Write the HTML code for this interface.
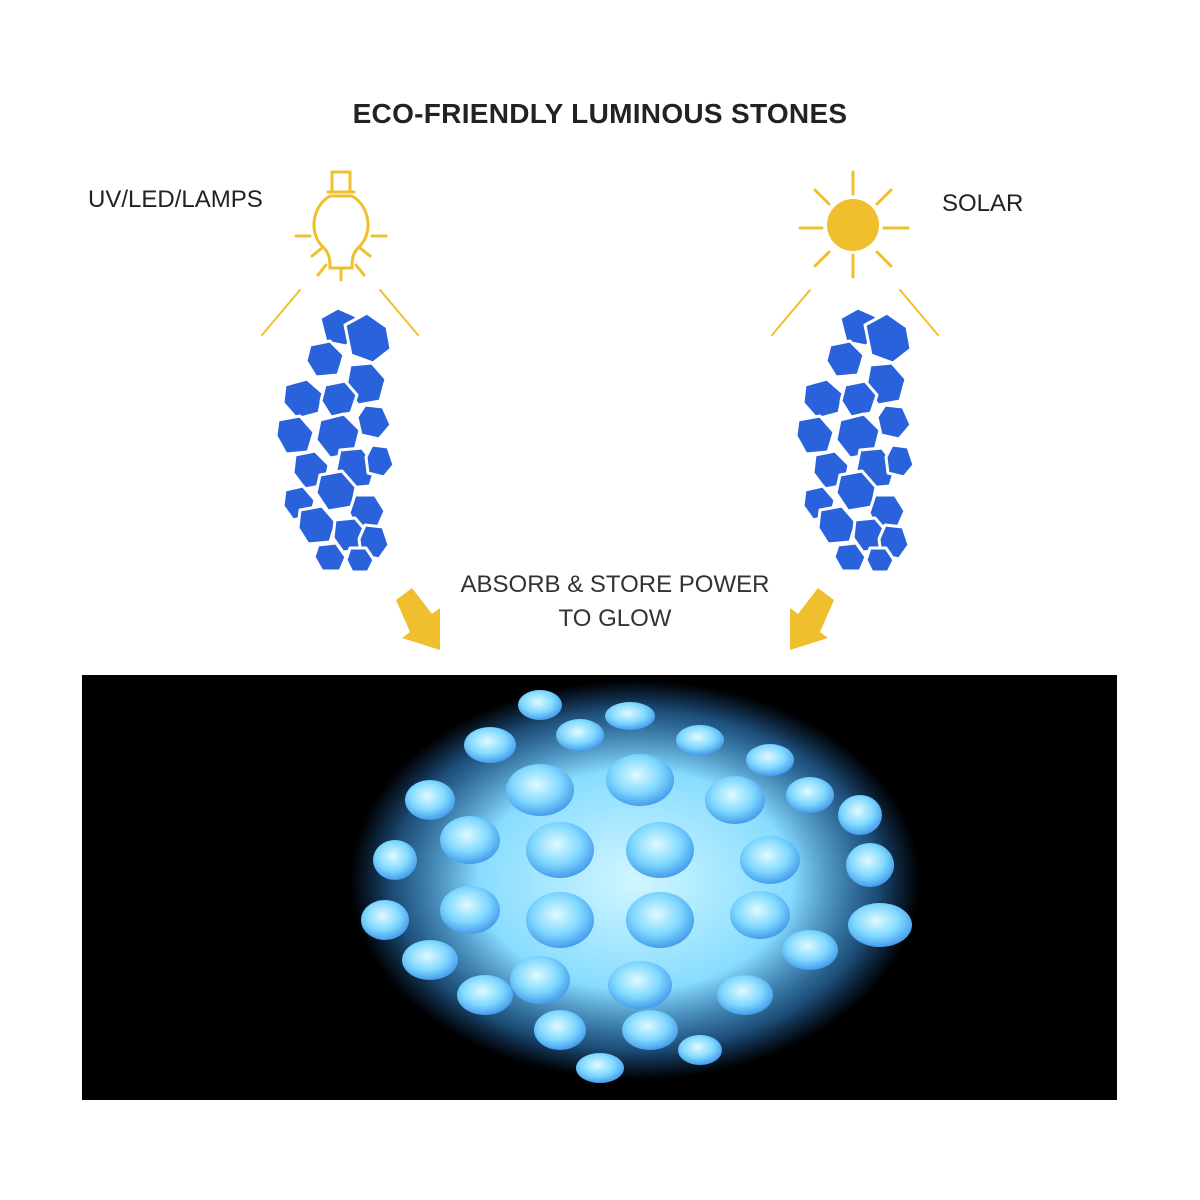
<!DOCTYPE html>
<html><head><meta charset="utf-8"><style>
body{margin:0;width:1200px;height:1200px;background:#fff;position:relative;overflow:hidden;font-family:"Liberation Sans",sans-serif}
.t{position:absolute;color:#222;white-space:nowrap}
</style></head><body>
<div class="t" style="left:0;width:1200px;text-align:center;top:98px;font-size:28px;font-weight:bold;letter-spacing:0.3px">ECO-FRIENDLY LUMINOUS STONES</div>
<div class="t" style="left:88px;top:186px;font-size:24px">UV/LED/LAMPS</div>
<div class="t" style="left:942px;top:190px;font-size:24px">SOLAR</div>
<div class="t" style="left:440px;width:350px;text-align:center;top:568px;font-size:24px;line-height:34px;color:#333">ABSORB &amp; STORE POWER<br>TO GLOW</div>
<svg width="1200" height="1200" style="position:absolute;left:0;top:0">
<defs>
<radialGradient id="g" cx="0.45" cy="0.4" r="0.65"><stop offset="0" stop-color="#e0faff"/><stop offset="0.55" stop-color="#7fd8ff"/><stop offset="1" stop-color="#3a90e8"/></radialGradient>
<radialGradient id="glow" cx="0.5" cy="0.5" r="0.5"><stop offset="0" stop-color="#d0f6ff"/><stop offset="0.55" stop-color="#88dcff"/><stop offset="0.85" stop-color="#3a9cf0" stop-opacity="0.5"/><stop offset="1" stop-color="#2a80e0" stop-opacity="0"/></radialGradient>
<g id="stones" fill="#2a62dc" stroke="#fff" stroke-width="3" stroke-linejoin="round">
<path d="M320 318l18-10 18 8 4 18-14 12-20-4z"/>
<path d="M345 325l22-12 20 14 4 22-18 14-22-8z"/>
<path d="M310 345l20-4 14 14-6 20-22 2-10-16z"/>
<path d="M350 365l22-2 14 16-6 22-22 4-12-18z"/>
<path d="M285 385l22-6 16 14-4 20-22 6-14-16z"/>
<path d="M325 385l20-4 12 14-6 18-20 4-10-16z"/>
<path d="M365 405l18 2 8 18-12 14-18-4-4-18z"/>
<path d="M278 420l22-4 14 16-6 20-22 2-10-18z"/>
<path d="M320 420l24-6 16 16-6 24-24 4-14-18z"/>
<path d="M295 455l20-4 14 14-4 20-20 4-12-16z"/>
<path d="M340 450l22-2 14 18-6 20-22 2-12-18z"/>
<path d="M372 445l16 2 6 18-10 12-16-4-2-16z"/>
<path d="M285 490l18-4 12 14-4 16-18 4-10-14z"/>
<path d="M320 475l22-4 14 16-4 20-24 4-12-18z"/>
<path d="M355 495l20 0 10 16-8 18-20 0-8-16z"/>
<path d="M300 510l22-4 14 16-6 20-22 2-10-16z"/>
<path d="M335 520l20-2 12 14-4 18-20 2-10-14z"/>
<path d="M365 525l18 2 6 18-10 14-18-4-2-16z"/>
<path d="M318 545l18-2 10 14-6 14-18 0-8-14z"/>
<path d="M350 548l16 0 8 12-6 12-16 0-6-12z"/>
</g>
</defs>
<g stroke="#f0bf2e" stroke-width="3" fill="none" stroke-linecap="round">
<path d="M332 172h18v20h-18z M328 192h26 M330 196c-18 10-22 38-6 52 6 6 6 14 6 20h22c0-6 0-14 6-20 16-14 12-42-6-52z"/>
<path d="M296 236h14 M372 236h14 M312 256l10-8 M370 256l-10-8 M341 268v12 M318 275l8-10 M364 275l-8-10"/>
<path d="M300 290l-38 45 M380 290l38 45" stroke-width="2"/>
<path d="M853 172v22 M853 255v22 M800 228h22 M884 228h24 M815 190l14 14 M891 190l-14 14 M815 266l14-14 M891 266l-14-14"/>
<path d="M810 290l-38 45 M900 290l38 45" stroke-width="2"/>
</g>
<circle cx="853" cy="225" r="26" fill="#f0bf2e"/>
<use href="#stones"/>
<use href="#stones" x="520"/>
<g fill="#f0bf2e">
<path d="M396 600l16-12 20 26 8-6 0 42-38-12 8-6z"/>
<path d="M834 600l-16-12-20 26-8-6 0 42 38-12-8-6z"/>
</g>
<rect x="82" y="675" width="1035" height="425" fill="#000"/>
<ellipse cx="635" cy="880" rx="285" ry="200" fill="url(#glow)"/>
<g fill="url(#g)">
<ellipse cx="540" cy="705" rx="22" ry="15"/><ellipse cx="630" cy="716" rx="25" ry="14"/><ellipse cx="580" cy="735" rx="24" ry="16"/><ellipse cx="490" cy="745" rx="26" ry="18"/>
<ellipse cx="700" cy="740" rx="24" ry="15"/><ellipse cx="770" cy="760" rx="24" ry="16"/><ellipse cx="430" cy="800" rx="25" ry="20"/><ellipse cx="810" cy="795" rx="24" ry="18"/>
<ellipse cx="860" cy="815" rx="22" ry="20"/><ellipse cx="395" cy="860" rx="22" ry="20"/><ellipse cx="870" cy="865" rx="24" ry="22"/>
<ellipse cx="385" cy="920" rx="24" ry="20"/><ellipse cx="880" cy="925" rx="32" ry="22"/><ellipse cx="430" cy="960" rx="28" ry="20"/>
<ellipse cx="810" cy="950" rx="28" ry="20"/><ellipse cx="485" cy="995" rx="28" ry="20"/><ellipse cx="745" cy="995" rx="28" ry="20"/>
<ellipse cx="560" cy="1030" rx="26" ry="20"/><ellipse cx="650" cy="1030" rx="28" ry="20"/><ellipse cx="600" cy="1068" rx="24" ry="15"/><ellipse cx="700" cy="1050" rx="22" ry="15"/>
<ellipse cx="540" cy="790" rx="34" ry="26"/><ellipse cx="640" cy="780" rx="34" ry="26"/><ellipse cx="735" cy="800" rx="30" ry="24"/>
<ellipse cx="470" cy="840" rx="30" ry="24"/><ellipse cx="560" cy="850" rx="34" ry="28"/><ellipse cx="660" cy="850" rx="34" ry="28"/><ellipse cx="770" cy="860" rx="30" ry="24"/>
<ellipse cx="470" cy="910" rx="30" ry="24"/><ellipse cx="560" cy="920" rx="34" ry="28"/><ellipse cx="660" cy="920" rx="34" ry="28"/><ellipse cx="760" cy="915" rx="30" ry="24"/>
<ellipse cx="540" cy="980" rx="30" ry="24"/><ellipse cx="640" cy="985" rx="32" ry="24"/>
</g>
</svg>
</body></html>
